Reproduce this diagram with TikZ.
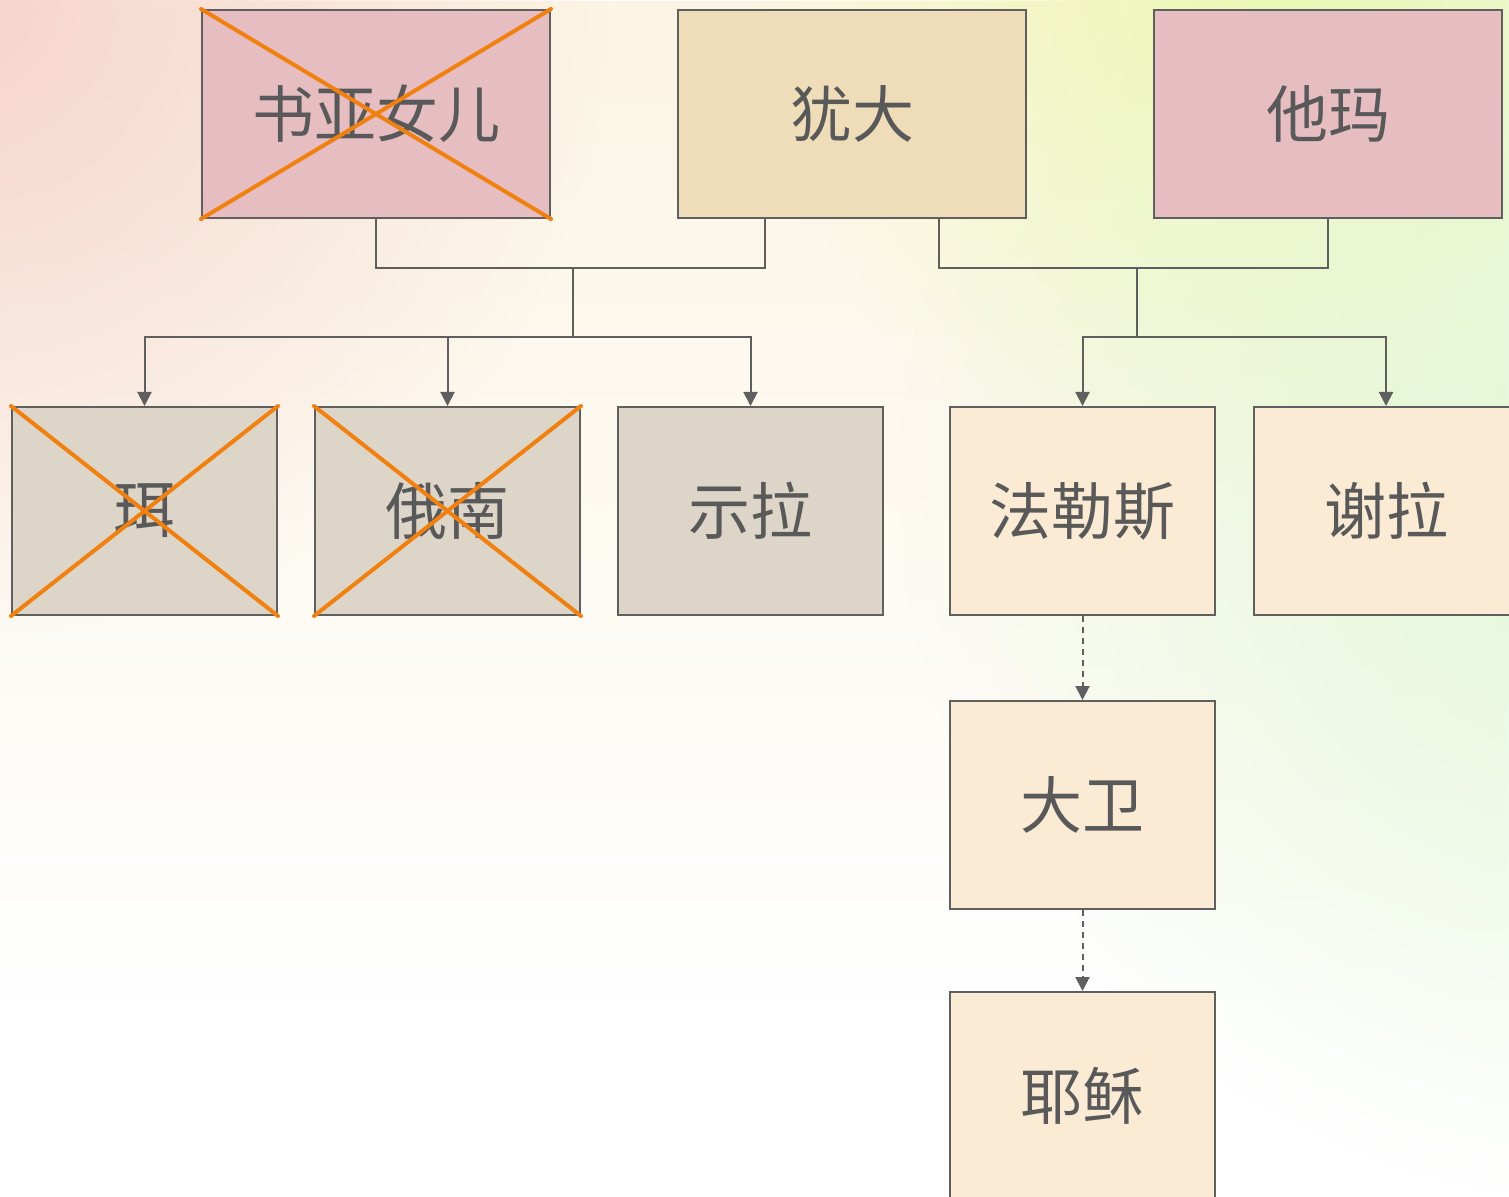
\documentclass[tikz,border=0pt]{standalone}
\usepackage{fontspec}
\setmainfont{Noto Sans CJK SC}
\usetikzlibrary{arrows.meta,fadings}
\tikzfading[name=radfade,inner color=transparent!0,outer color=transparent!100]
\tikzfading[name=topfade,top color=transparent!0,bottom color=transparent!100]
\definecolor{linegray}{HTML}{5F5F5F}
\definecolor{txtgray}{HTML}{595959}
\definecolor{pinkbox}{HTML}{E6BDC0}
\definecolor{beigebox}{HTML}{EEDDB8}
\definecolor{graybox}{HTML}{DDD5C8}
\definecolor{creambox}{HTML}{FBEBD4}
\definecolor{crossorange}{HTML}{F08010}
\definecolor{bgcream}{HTML}{FCF5E4}
\definecolor{bgpink}{HTML}{F6D4CC}
\definecolor{bgyellow}{HTML}{EDF8AC}
\definecolor{bggreen}{HTML}{E2F7D6}
\begin{document}
\begin{tikzpicture}[x=0.5pt,y=-0.5pt,
  box/.style={draw=linegray,line width=1pt,rectangle,inner sep=0pt,
    text=txtgray,font=\fontsize{31pt}{36pt}\selectfont,anchor=center},
  bigbox/.style={box,minimum width=174pt,minimum height=104pt},
  smallbox/.style={box,minimum width=132.5pt,minimum height=104pt},
  conn/.style={draw=linegray,line width=1pt},
  arr/.style={conn,-{Triangle[width=7pt,length=7pt]}},
  darr/.style={arr,dash pattern=on 3pt off 2.5pt},
  cross/.style={draw=crossorange,line width=2pt,line cap=round}]
\useasboundingbox (0,0) rectangle (1509,1197);
\begin{scope}
\clip (0,0) rectangle (1509,1197);
\fill[white] (0,0) rectangle (1509,1197);
\fill[bgcream,path fading=topfade] (0,0) rectangle (1509,1000);
\fill[bgpink,path fading=radfade] (-40,0) circle[radius=650];
\fill[bgyellow,path fading=radfade] (1300,-40) circle[radius=560];
\fill[bggreen,path fading=radfade] (1620,480) circle[radius=720];
\end{scope}
% top row
\node[bigbox,fill=pinkbox] (shuya) at (376,114) {书亚女儿};
\node[bigbox,fill=beigebox] (judah) at (852,114) {犹大};
\node[bigbox,fill=pinkbox] (tamar) at (1328,114) {他玛};
% second row
\node[smallbox,fill=graybox] (er) at (144.5,511) {珥};
\node[smallbox,fill=graybox] (onan) at (447.5,511) {俄南};
\node[smallbox,fill=graybox] (shelah) at (750.5,511) {示拉};
\node[smallbox,fill=creambox] (perez) at (1082.5,511) {法勒斯};
\node[smallbox,fill=creambox] (zerah) at (1386,511) {谢拉};
% lower column
\node[smallbox,fill=creambox] (david) at (1082.5,805) {大卫};
\node[smallbox,fill=creambox] (jesus) at (1082.5,1096) {耶稣};
% crosses
\foreach \n in {shuya,er,onan}{
  \draw[cross] (\n.north west) -- (\n.south east);
  \draw[cross] (\n.south west) -- (\n.north east);
}
% connectors
\coordinate (j1) at (573,268);
\coordinate (b1) at (573,337);
\coordinate (j2) at (1137,268);
\coordinate (b2) at (1137,337);
\draw[conn] (shuya.south) |- (j1) -| ([xshift=-43.5pt]judah.south);
\draw[conn] (j1) -- (b1);
\draw[arr] (b1) -| (er.north);
\draw[arr] (b1) -| (onan.north);
\draw[arr] (b1) -| (shelah.north);
\draw[conn] ([xshift=43.5pt]judah.south) |- (j2) -| (tamar.south);
\draw[conn] (j2) -- (b2);
\draw[arr] (b2) -| (perez.north);
\draw[arr] (b2) -| (zerah.north);
\draw[darr] (perez.south) -- (david.north);
\draw[darr] (david.south) -- (jesus.north);
\end{tikzpicture}
\end{document}
